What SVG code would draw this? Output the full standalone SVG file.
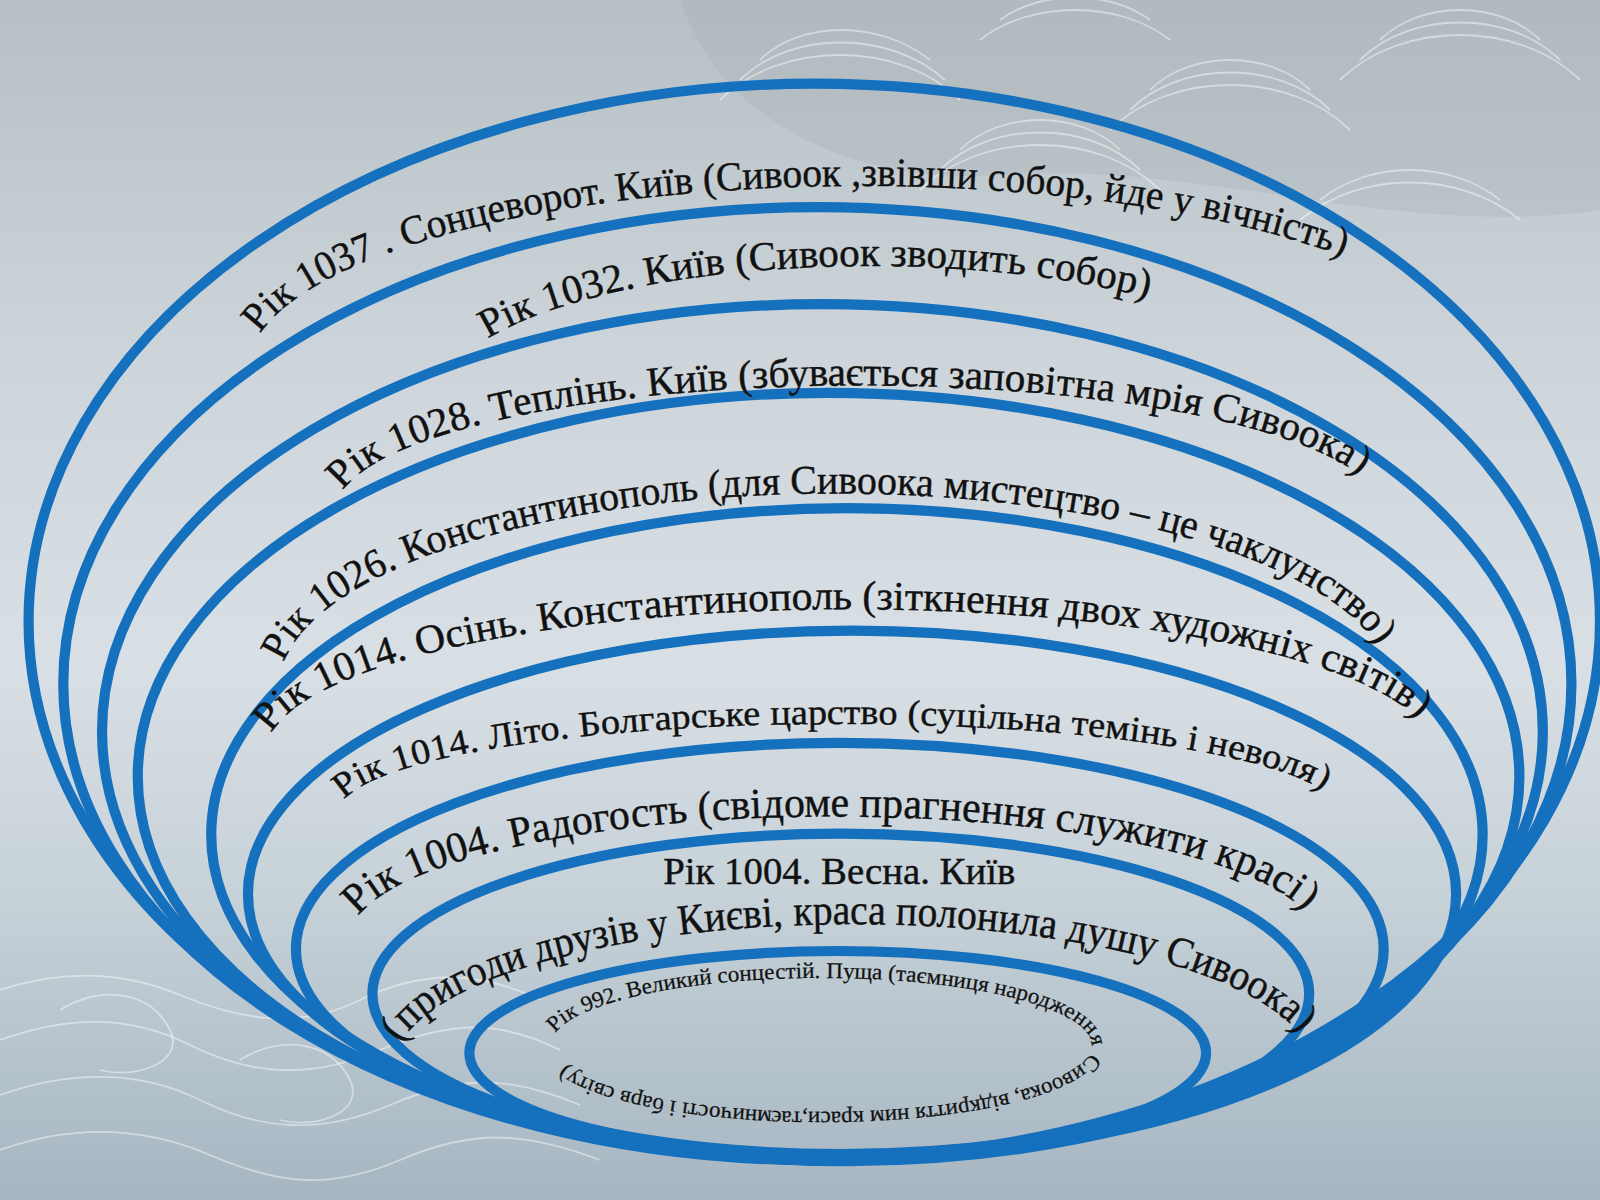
<svg xmlns="http://www.w3.org/2000/svg" width="1600" height="1200" viewBox="0 0 1600 1200">
<defs>
<linearGradient id="bg" x1="0" y1="0" x2="0" y2="1">
<stop offset="0" stop-color="#b6c0c4"/>
<stop offset="0.3" stop-color="#cdd5da"/>
<stop offset="0.55" stop-color="#d9e0e5"/>
<stop offset="0.75" stop-color="#c6d1d8"/>
<stop offset="1" stop-color="#a6b6c1"/>
</linearGradient>
<style>
.ring{fill:none;stroke:#1570be;stroke-width:10}
.t{font-family:"Liberation Serif","DejaVu Serif",serif;fill:#111;stroke:#111;stroke-width:0.4}
.deco{fill:none;stroke:#ffffff;stroke-opacity:0.45;stroke-width:1.8}
</style>
<path id="p1" d="M 255 327 A 600 180 0 0 1 1325 255"/>
<path id="p2" d="M 478 332 A 420 130 0 0 1 1133 294"/>
<path id="p3" d="M 336 481 A 512 123 0 0 1 1340 473"/>
<path id="p4" d="M 278 649 A 545 191 0 0 1 1355 642"/>
<path id="p5" d="M 266 719 A 572 140 0 0 1 1398 715"/>
<path id="p6" d="M 337 784 A 490 87 0 0 1 1304 781"/>
<path id="p7" d="M 351 898 A 474 120 0 0 1 1284 900"/>
<path id="p8" d="M 393 1022 A 450 141 0 0 1 1279 1022"/>
<path id="p9" d="M 544.03 1012.54 A 265 66 0 0 1 1065.97 1035.46 A 265 66 0 0 1 544.03 1012.54"/>
</defs>
<rect width="1600" height="1200" fill="url(#bg)"/>
<g id="background-decor">
<path d="M 680 0 L 1600 0 L 1600 210 C 1400 240 1200 160 1000 175 C 850 185 720 120 680 0 Z" fill="#9fa9ae" fill-opacity="0.25"/>
<path class="deco" d="M 760 60 C 800 20 880 20 930 60"/>
<path class="deco" d="M 740 80 C 790 30 890 30 945 80"/>
<path class="deco" d="M 720 100 C 780 40 900 40 960 100"/>
<path class="deco" d="M 960 150 C 1000 110 1080 110 1120 150"/>
<path class="deco" d="M 940 170 C 990 120 1090 120 1140 170"/>
<path class="deco" d="M 920 190 C 980 130 1100 130 1160 190"/>
<path class="deco" d="M 1150 90 C 1190 50 1270 50 1310 90"/>
<path class="deco" d="M 1130 110 C 1180 60 1280 60 1330 110"/>
<path class="deco" d="M 1110 130 C 1170 70 1290 70 1350 130"/>
<path class="deco" d="M 1380 40 C 1420 0 1500 0 1540 40"/>
<path class="deco" d="M 1360 60 C 1410 10 1510 10 1560 60"/>
<path class="deco" d="M 1340 80 C 1400 20 1520 20 1580 80"/>
<path class="deco" d="M 1320 200 C 1370 160 1450 160 1500 200"/>
<path class="deco" d="M 1300 220 C 1360 170 1460 170 1520 220"/>
<path class="deco" d="M 1000 20 C 1040 -10 1110 -10 1150 20"/>
<path class="deco" d="M 980 40 C 1030 0 1120 0 1170 40"/>
<path class="deco" d="M 0 990 C 60 970 120 970 180 995 S 300 1030 360 1000 S 480 970 540 1000"/>
<path class="deco" d="M 0 1040 C 70 1015 130 1015 190 1045 S 310 1080 380 1050 S 500 1020 560 1050"/>
<path class="deco" d="M 0 1095 C 70 1070 140 1070 200 1100 S 320 1135 390 1105 S 510 1075 580 1105"/>
<path class="deco" d="M 0 1150 C 70 1125 140 1125 210 1155 S 330 1190 400 1160 S 520 1130 600 1160"/>
<path class="deco" d="M 60 1010 C 100 985 150 990 170 1030 C 185 1060 140 1080 100 1070"/>
<path class="deco" d="M 240 1060 C 280 1035 330 1040 350 1080 C 365 1110 320 1130 280 1120"/>
</g>
<g id="diagram" transform="scale(1.0204)">
<g id="rings">
<ellipse id="e1" class="ring" cx="798" cy="609" rx="770" ry="527"/>
<ellipse id="e2" class="ring" cx="801" cy="670" rx="739" ry="467"/>
<ellipse id="e3" class="ring" cx="806" cy="717" rx="706" ry="419"/>
<ellipse id="e4" class="ring" cx="812" cy="761" rx="677" ry="376"/>
<ellipse id="e5" class="ring" cx="830" cy="818" rx="623" ry="320"/>
<ellipse id="e6" class="ring" cx="835" cy="876" rx="592" ry="258"/>
<ellipse id="e7" class="ring" cx="823" cy="930" rx="533" ry="202"/>
<ellipse id="e8" class="ring" cx="824" cy="974" rx="459" ry="157"/>
<ellipse id="e9" class="ring" cx="821" cy="1032" rx="361" ry="100"/>
</g>
<g id="labels">
<text id="t1" class="t" font-size="40"><textPath href="#p1" textLength="1100" lengthAdjust="spacingAndGlyphs">Рік 1037 . Сонцеворот. Київ (Сивоок ,звівши собор, йде у вічність)</textPath></text>
<text id="t2" class="t" font-size="40"><textPath href="#p2" textLength="660" lengthAdjust="spacingAndGlyphs">Рік 1032. Київ (Сивоок зводить собор)</textPath></text>
<text id="t3" class="t" font-size="40"><textPath href="#p3" textLength="1030" lengthAdjust="spacingAndGlyphs">Рік 1028. Теплінь. Київ (збувається заповітна мрія Сивоока)</textPath></text>
<text id="t4" class="t" font-size="40"><textPath href="#p4" textLength="1153" lengthAdjust="spacingAndGlyphs">Рік 1026. Константинополь (для Сивоока мистецтво – це чаклунство)</textPath></text>
<text id="t5" class="t" font-size="40"><textPath href="#p5" textLength="1168" lengthAdjust="spacingAndGlyphs">Рік 1014. Осінь. Константинополь (зіткнення двох художніх світів)</textPath></text>
<text id="t6" class="t" font-size="35"><textPath href="#p6" textLength="979" lengthAdjust="spacingAndGlyphs">Рік 1014. Літо. Болгарське царство (суцільна темінь і неволя)</textPath></text>
<text id="t7" class="t" font-size="42"><textPath href="#p7" textLength="963" lengthAdjust="spacingAndGlyphs">Рік 1004. Радогость (свідоме прагнення служити красі)</textPath></text>
<text id="t8a" class="t" font-size="37" x="650" y="866" textLength="345" lengthAdjust="spacingAndGlyphs">Рік 1004. Весна. Київ</text>
<text id="t8b" class="t" font-size="42"><textPath href="#p8" textLength="930" lengthAdjust="spacingAndGlyphs">(пригоди друзів у Києві, краса полонила душу Сивоока)</textPath></text>
<text id="t9" class="t" font-size="22" style="stroke-width:0.25"><textPath href="#p9" textLength="1097" lengthAdjust="spacingAndGlyphs">Рік 992. Великий сонцестій. Пуща (таємниця народження Сивоока, відкриття ним краси,таємничості і барв світу)</textPath></text>
</g>
</g>
</svg>
